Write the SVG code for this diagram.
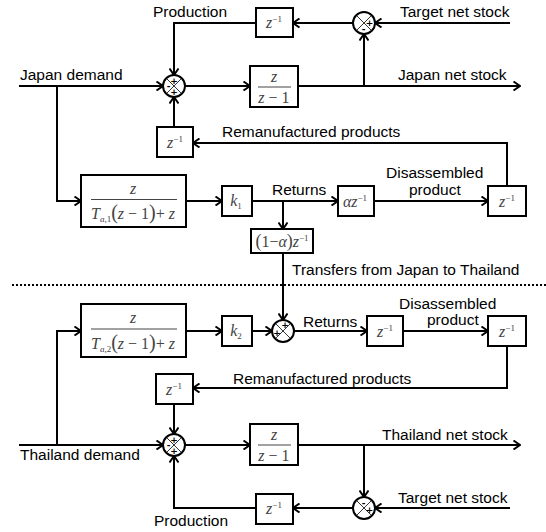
<svg xmlns="http://www.w3.org/2000/svg" width="546" height="532" viewBox="0 0 546 532">
<defs>
<style>
.w{stroke:#000;stroke-width:2;fill:none}
.b{stroke:#000;stroke-width:2;fill:#fff}
.lbl{font-family:"Liberation Sans",Arial,sans-serif;font-size:15.5px;fill:#000}
.m{font-family:"Liberation Serif","Times New Roman",serif;font-style:italic;font-size:16px;fill:#444}
.n{font-style:normal}
.sg{font-family:"DejaVu Sans",sans-serif;font-size:9px;font-weight:bold;fill:#000;text-anchor:middle;dominant-baseline:central}
.x{stroke:#000;stroke-width:0.8}
.dot{stroke:#000;stroke-width:2;stroke-dasharray:2 2;fill:none}
</style>
<marker id="ah" viewBox="0 0 10 10" refX="9" refY="5" markerWidth="10" markerHeight="10" markerUnits="userSpaceOnUse" orient="auto">
<path d="M2.5,0.5 L9,5 L2.5,9.5" fill="none" stroke="#000" stroke-width="2"/>
</marker>
</defs>
<rect width="546" height="532" fill="#fff"/>

<g id="connectors">
<path class="w" d="M256,23 H174 V75" marker-end="url(#ah)"/>
<path class="w" d="M19,86 H163" marker-end="url(#ah)"/>
<path class="w" d="M57,86 V201 H81" marker-end="url(#ah)"/>
<path class="w" d="M185,86 H250" marker-end="url(#ah)"/>
<path class="w" d="M298,86 H520" marker-end="url(#ah)"/>
<path class="w" d="M364,86 V34" marker-end="url(#ah)"/>
<path class="w" d="M510,23 H375" marker-end="url(#ah)"/>
<path class="w" d="M353,23 H293" marker-end="url(#ah)"/>
<path class="w" d="M174,127 V97" marker-end="url(#ah)"/>
<path class="w" d="M507,186 V143 H193" marker-end="url(#ah)"/>
<path class="w" d="M186,201 H222" marker-end="url(#ah)"/>
<path class="w" d="M252,201 H338" marker-end="url(#ah)"/>
<path class="w" d="M283,201 V229" marker-end="url(#ah)"/>
<path class="w" d="M374,201 H488" marker-end="url(#ah)"/>
<path class="w" d="M283,253 V320" marker-end="url(#ah)"/>
<path class="w" d="M186,331 H222" marker-end="url(#ah)"/>
<path class="w" d="M252,331 H272" marker-end="url(#ah)"/>
<path class="w" d="M294,331 H367" marker-end="url(#ah)"/>
<path class="w" d="M403,331 H488" marker-end="url(#ah)"/>
<path class="w" d="M507,346 V388 H193" marker-end="url(#ah)"/>
<path class="w" d="M174,404 V434" marker-end="url(#ah)"/>
<path class="w" d="M19,445 H163" marker-end="url(#ah)"/>
<path class="w" d="M57,445 V331 H81" marker-end="url(#ah)"/>
<path class="w" d="M185,445 H250" marker-end="url(#ah)"/>
<path class="w" d="M298,445 H520" marker-end="url(#ah)"/>
<path class="w" d="M364,445 V497" marker-end="url(#ah)"/>
<path class="w" d="M510,508 H375" marker-end="url(#ah)"/>
<path class="w" d="M353,508 H293" marker-end="url(#ah)"/>
<path class="w" d="M256,508 H174 V456" marker-end="url(#ah)"/>
</g>

<line class="dot" x1="12" y1="285" x2="546" y2="285"/>

<g id="labels" class="lbl">
<text x="153" y="17">Production</text>
<text x="400" y="16.5">Target net stock</text>
<text x="20" y="80">Japan demand</text>
<text x="398" y="80">Japan net stock</text>
<text x="222" y="137">Remanufactured products</text>
<text x="272" y="195">Returns</text>
<text x="386" y="178">Disassembled</text>
<text x="409" y="195">product</text>
<text x="292" y="275">Transfers from Japan to Thailand</text>
<text x="303" y="327">Returns</text>
<text x="399" y="309">Disassembled</text>
<text x="427" y="325">product</text>
<text x="233" y="384">Remanufactured products</text>
<text x="20" y="460">Thailand demand</text>
<text x="382" y="440">Thailand net stock</text>
<text x="398" y="503">Target net stock</text>
<text x="154" y="526">Production</text>
</g>

<g id="sum1">
<circle class="b" cx="174" cy="86" r="11"/>
<path class="x" d="M166.2,78.2 L181.8,93.8 M181.8,78.2 L166.2,93.8"/>
<text class="sg" x="174" y="80.5">+</text><text class="sg" x="168.5" y="86">-</text><text class="sg" x="174" y="91.5">+</text>
</g>
<g id="sum2">
<circle class="b" cx="364" cy="23" r="11"/>
<path class="x" d="M356.2,15.2 L371.8,30.8 M371.8,15.2 L356.2,30.8"/>
<text class="sg" x="369.5" y="22.5">+</text><text class="sg" x="363.5" y="28.5">-</text>
</g>
<g id="sum3">
<circle class="b" cx="283" cy="331" r="11"/>
<path class="x" d="M275.2,323.2 L290.8,338.8 M290.8,323.2 L275.2,338.8"/>
<text class="sg" x="285" y="325">+</text><text class="sg" x="277" y="333">+</text>
</g>
<g id="sum4">
<circle class="b" cx="174" cy="445" r="11"/>
<path class="x" d="M166.2,437.2 L181.8,452.8 M181.8,437.2 L166.2,452.8"/>
<text class="sg" x="174" y="439.5">+</text><text class="sg" x="168.5" y="445">-</text><text class="sg" x="174" y="450.5">+</text>
</g>
<g id="sum5">
<circle class="b" cx="364" cy="508" r="11"/>
<path class="x" d="M356.2,500.2 L371.8,515.8 M371.8,500.2 L356.2,515.8"/>
<text class="sg" x="363.5" y="502.5">-</text><text class="sg" x="369.5" y="509.5">+</text>
</g>

<g id="delay-prod-japan">
<rect class="b" x="256" y="8" width="37" height="29"/>
<text class="m" x="274" y="28" text-anchor="middle">z<tspan class="n" font-size="9" dy="-6">−1</tspan></text>
</g>
<g id="stock-japan">
<rect class="b" x="250" y="66" width="48" height="41"/>
<text class="m" x="274" y="82" text-anchor="middle">z</text>
<line x1="258" y1="87" x2="291" y2="87" stroke="#444" stroke-width="1"/>
<text class="m" x="274" y="103" text-anchor="middle">z <tspan class="n">− 1</tspan></text>
</g>
<g id="reman-japan">
<rect class="b" x="157" y="127" width="36" height="30"/>
<text class="m" x="175" y="148" text-anchor="middle">z<tspan class="n" font-size="9" dy="-6">−1</tspan></text>
</g>
<g id="forecast-japan">
<rect class="b" x="81" y="175" width="105" height="52"/>
<text class="m" x="133" y="194" text-anchor="middle">z</text>
<line x1="91" y1="199.5" x2="177" y2="199.5" stroke="#444" stroke-width="1"/>
<text class="m" x="133" y="219" text-anchor="middle">T<tspan font-size="9" dy="3">a,</tspan><tspan class="n" font-size="9">1</tspan><tspan class="n" dy="-3" font-size="20">(</tspan>z<tspan class="n"> − 1</tspan><tspan class="n" font-size="20">)</tspan><tspan class="n">+ </tspan>z</text>
</g>
<g id="k1">
<rect class="b" x="222" y="186" width="30" height="30"/>
<text class="m" x="236" y="206" text-anchor="middle">k<tspan class="n" font-size="9" dy="3">1</tspan></text>
</g>
<g id="alpha-delay">
<rect class="b" x="338" y="186" width="36" height="30"/>
<text class="m" x="355" y="207" text-anchor="middle">αz<tspan class="n" font-size="9" dy="-6">−1</tspan></text>
</g>
<g id="disassembly-japan">
<rect class="b" x="488" y="186" width="38" height="30"/>
<text class="m" x="507" y="207" text-anchor="middle">z<tspan class="n" font-size="9" dy="-6">−1</tspan></text>
</g>
<g id="transfer">
<rect class="b" x="251" y="229" width="62" height="24"/>
<text class="m" x="282" y="247" text-anchor="middle"><tspan class="n" font-size="18">(</tspan><tspan class="n">1−</tspan>α<tspan class="n" font-size="18">)</tspan>z<tspan class="n" font-size="9" dy="-6">−1</tspan></text>
</g>

<g id="forecast-thailand">
<rect class="b" x="81" y="304" width="105" height="53"/>
<text class="m" x="133" y="323" text-anchor="middle">z</text>
<line x1="91" y1="329" x2="177" y2="329" stroke="#444" stroke-width="1"/>
<text class="m" x="133" y="349" text-anchor="middle">T<tspan font-size="9" dy="3">a,</tspan><tspan class="n" font-size="9">2</tspan><tspan class="n" dy="-3" font-size="20">(</tspan>z<tspan class="n"> − 1</tspan><tspan class="n" font-size="20">)</tspan><tspan class="n">+ </tspan>z</text>
</g>
<g id="k2">
<rect class="b" x="222" y="316" width="30" height="30"/>
<text class="m" x="236" y="336" text-anchor="middle">k<tspan class="n" font-size="9" dy="3">2</tspan></text>
</g>
<g id="returns-delay-thailand">
<rect class="b" x="367" y="316" width="36" height="30"/>
<text class="m" x="385" y="337" text-anchor="middle">z<tspan class="n" font-size="9" dy="-6">−1</tspan></text>
</g>
<g id="disassembly-thailand">
<rect class="b" x="488" y="316" width="38" height="30"/>
<text class="m" x="507" y="337" text-anchor="middle">z<tspan class="n" font-size="9" dy="-6">−1</tspan></text>
</g>
<g id="reman-thailand">
<rect class="b" x="156" y="374" width="37" height="30"/>
<text class="m" x="174" y="395" text-anchor="middle">z<tspan class="n" font-size="9" dy="-6">−1</tspan></text>
</g>
<g id="stock-thailand">
<rect class="b" x="250" y="424" width="48" height="41"/>
<text class="m" x="274" y="440" text-anchor="middle">z</text>
<line x1="258" y1="445" x2="291" y2="445" stroke="#444" stroke-width="1"/>
<text class="m" x="274" y="461" text-anchor="middle">z <tspan class="n">− 1</tspan></text>
</g>
<g id="delay-prod-thailand">
<rect class="b" x="256" y="494" width="37" height="30"/>
<text class="m" x="274" y="514" text-anchor="middle">z<tspan class="n" font-size="9" dy="-6">−1</tspan></text>
</g>
</svg>
